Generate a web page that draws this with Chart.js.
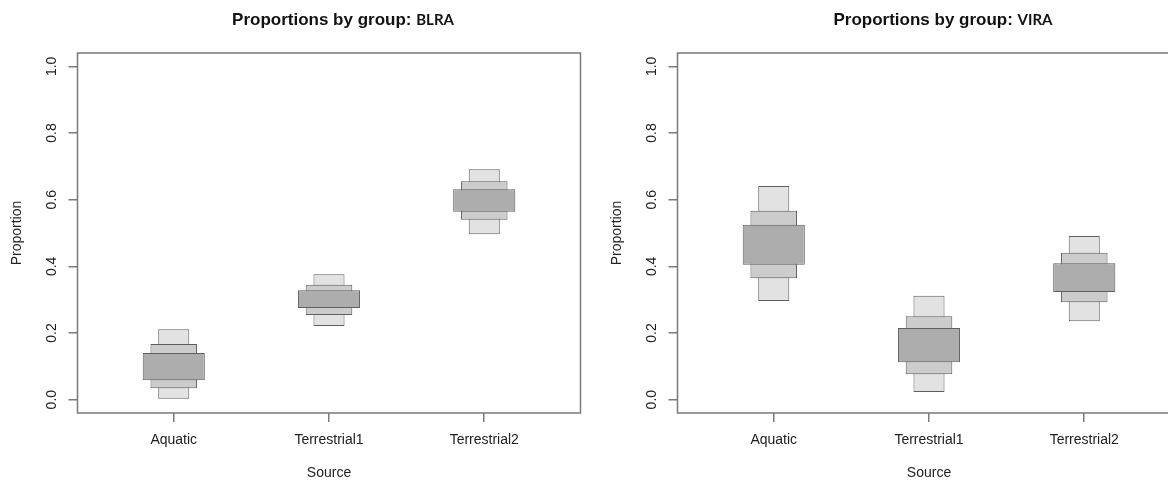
<!DOCTYPE html>
<html lang="en">

<head>
    <meta charset="UTF-8">
    <title>Proportions by group</title>
    <script src="https://cdn.jsdelivr.net/npm/chart.js@4"></script>
    <style>
        body { margin: 0; background: #fff; }
        #wrap { position: relative; width: 1168px; height: 480px; overflow: hidden; }
        canvas { position: absolute; top: 0; }
    </style>
</head>

<body>
    <div id="wrap">
        <canvas id="blra" width="600" height="480" style="left:0px"></canvas>
        <canvas id="vira" width="600" height="480" style="left:600px"></canvas>
    </div>
    <script>
        // sources on the x axis (placed at 1, 2, 3)
        const sources = ['Aquatic', 'Terrestrial1', 'Terrestrial2'];
        const sourcePos = [1, 2, 3];
        const yTicks = [0, 0.2, 0.4, 0.6, 0.8, 1.0];

        // BLRA intervals [low, high]
        const blra95 = [[0.003, 0.211], [0.221, 0.376], [0.496, 0.691]];
        const blra75 = [[0.034, 0.167], [0.254, 0.345], [0.540, 0.655]];
        const blra50 = [[0.058, 0.140], [0.275, 0.328], [0.564, 0.631]];

        // VIRA intervals
        const vira95 = [[0.296, 0.641], [0.023, 0.312], [0.235, 0.491]];
        const vira75 = [[0.364, 0.567], [0.076, 0.250], [0.292, 0.441]];
        const vira50 = [[0.405, 0.525], [0.112, 0.215], [0.323, 0.409]];

        Chart.defaults.font.family = '"Liberation Sans", Arial, sans-serif';
        Chart.defaults.color = '#222';

        const frameColour = '#7a7a7a';

        // box round the plot region + the two-font title
        const framePlugin = {
            id: 'frame',
            afterDraw(chart, args, opts) {
                const { ctx, chartArea: a } = chart;
                ctx.save();
                ctx.strokeStyle = frameColour;
                ctx.lineWidth = 1.5;
                ctx.strokeRect(a.left, a.top, a.right - a.left, a.bottom - a.top);

                const lead = 'Proportions by group: ';
                ctx.fillStyle = '#111';
                ctx.textBaseline = 'alphabetic';
                ctx.font = 'bold 17px "Liberation Sans", Arial';
                const w1 = ctx.measureText(lead).width;
                ctx.font = 'bold 15px Lato, "Liberation Sans"';
                const w2 = ctx.measureText(opts.group).width;
                let x = (a.left + a.right) / 2 + 14 - (w1 + w2) / 2;
                ctx.font = 'bold 17px "Liberation Sans", Arial';
                ctx.fillText(lead, x, 24.5);
                ctx.font = 'bold 15px Lato, "Liberation Sans"';
                ctx.fillText(opts.group, x + w1, 24.5);
                ctx.restore();
            }
        };

        function toPoints(ranges) {
            return ranges.map((r, i) => ({ x: sourcePos[i], y: r }));
        }

        function makeChart(id, group, r95, r75, r50) {
            let ctx = document.getElementById(id).getContext('2d');
            let config = {
                type: 'bar',
                data: {
                    datasets: [{
                        label: '95%',
                        data: toPoints(r95),
                        backgroundColor: '#e2e2e2',
                        barPercentage: 0.2,
                        order: 3
                    }, {
                        label: '75%',
                        data: toPoints(r75),
                        backgroundColor: '#cccccc',
                        barPercentage: 0.3,
                        order: 2
                    }, {
                        label: '50%',
                        data: toPoints(r50),
                        backgroundColor: '#adadad',
                        barPercentage: 0.4,
                        order: 1
                    }]
                },
                options: {
                    responsive: false,
                    animation: false,
                    devicePixelRatio: 1,
                    layout: { padding: { top: 53, right: 19.5, left: 0, bottom: 0 } },
                    datasets: {
                        bar: {
                            grouped: false,
                            categoryPercentage: 1,
                            borderColor: '#5e5e5e',
                            borderWidth: 1,
                            borderSkipped: false
                        }
                    },
                    plugins: {
                        legend: { display: false },
                        tooltip: { enabled: false },
                        frame: { group: group }
                    },
                    scales: {
                        x: {
                            type: 'linear',
                            min: 0.38,
                            max: 3.62,
                            offset: false,
                            afterFit: s => { s.height = 67; },
                            afterBuildTicks: s => { s.ticks = sourcePos.map(v => ({ value: v })); },
                            border: { display: false },
                            grid: { drawOnChartArea: false, offset: false, tickLength: 9, color: frameColour, lineWidth: 1.5 },
                            ticks: {
                                padding: 9.6,
                                maxRotation: 0,
                                font: { size: 14 },
                                callback: v => sources[sourcePos.indexOf(v)]
                            },
                            title: { display: true, text: 'Source', font: { size: 14 }, padding: { top: 0, bottom: -2 } }
                        },
                        y: {
                            min: -0.04,
                            max: 1.04,
                            afterFit: s => { s.width = 77.5; },
                            afterBuildTicks: s => { s.ticks = yTicks.map(v => ({ value: v })); },
                            border: { display: false },
                            grid: { drawOnChartArea: false, tickLength: 9, color: frameColour, lineWidth: 1.5 },
                            ticks: {
                                padding: 7,
                                minRotation: 90,
                                maxRotation: 90,
                                crossAlign: 'center',
                                font: { size: 14 },
                                callback: v => v.toFixed(1)
                            },
                            title: { display: true, text: 'Proportion', font: { size: 14 }, padding: { top: 9, bottom: 0 } }
                        }
                    }
                },
                plugins: [framePlugin]
            };
            return new Chart(ctx, config);
        }

        makeChart('blra', 'BLRA', blra95, blra75, blra50);
        makeChart('vira', 'VIRA', vira95, vira75, vira50);
    </script>
</body>

</html>
